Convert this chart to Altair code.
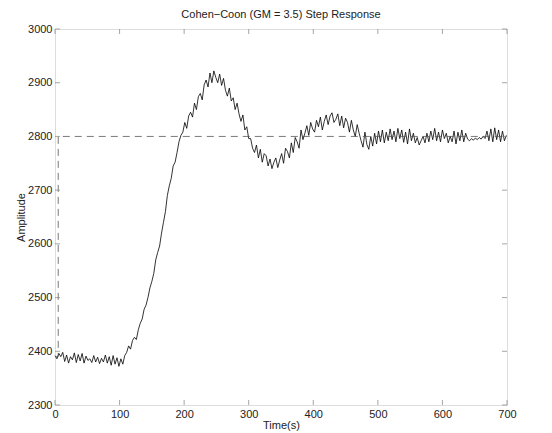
import altair as alt
import pandas as pd

# ---- data ----
time_s = list(range(0, 700, 3))

amp_base = [2392, 2386, 2396, 2390, 2398, 2381, 2393, 2378, 2390, 2384,
            2397, 2379, 2394, 2382, 2396, 2378, 2391, 2383, 2386, 2379,
            2392, 2380, 2389, 2377, 2387, 2380, 2393, 2378, 2390, 2374,
            2392, 2376, 2388, 2372, 2386, 2376]
amp_rise = [2392, 2398, 2410, 2404, 2420, 2426, 2422, 2440, 2452, 2460,
            2478, 2486, 2500, 2518, 2530, 2545, 2570, 2584, 2596, 2620,
            2640, 2660, 2690, 2708, 2722, 2745, 2752, 2770, 2790, 2802]
amp_peak = [2808, 2826, 2815, 2838, 2845, 2836, 2862, 2850, 2874, 2880,
            2868, 2896, 2905, 2892, 2918, 2900, 2922, 2910, 2900, 2916,
            2895, 2908, 2886, 2875, 2890, 2866, 2872, 2850, 2862, 2842,
            2828, 2840, 2812, 2818, 2796]
amp_dip = [2796, 2778, 2770, 2784, 2760, 2776, 2752, 2768, 2764, 2745,
           2758, 2740, 2752, 2760, 2742, 2756, 2768, 2750, 2778, 2772,
           2760, 2788, 2770, 2798, 2790, 2778, 2812, 2794, 2806, 2820]
amp_bump = [2802, 2826, 2814, 2808, 2830, 2818, 2836, 2812, 2828, 2840,
            2822, 2838, 2844, 2826, 2832, 2842, 2820, 2838, 2816, 2834,
            2826, 2808, 2830, 2812, 2800, 2822, 2806]
amp_settle = [2792, 2780, 2808, 2785, 2776, 2800, 2782, 2806, 2786, 2810,
              2790, 2812, 2788, 2808, 2792, 2814, 2794, 2810, 2790, 2815,
              2796, 2812, 2789, 2808, 2786, 2814, 2792, 2806, 2788, 2798,
              2784, 2792, 2800, 2788, 2806, 2790, 2810, 2794, 2815, 2792,
              2808, 2790, 2812, 2796, 2806, 2788, 2800, 2790, 2810, 2786,
              2808, 2792, 2812, 2790, 2806, 2795, 2792, 2796, 2793, 2797,
              2794, 2798, 2795, 2800, 2796, 2810, 2792, 2814, 2790, 2816,
              2794, 2812, 2790, 2810, 2792, 2802]

amplitude = amp_base + amp_rise + amp_peak + amp_dip + amp_bump + amp_settle

setpoint_t = [0, 5, 5, 700]
setpoint_y = [2390, 2390, 2800, 2800]

x_ticks = [0, 100, 200, 300, 400, 500, 600, 700]
y_ticks = [2300, 2400, 2500, 2600, 2700, 2800, 2900, 3000]

title_text = "Cohen\u2212Coon (GM = 3.5) Step Response"

# ---- tables ----
resp = pd.DataFrame({"t": time_s, "y": amplitude, "o": list(range(len(time_s)))})
sp = pd.DataFrame({"t": setpoint_t, "y": setpoint_y, "o": list(range(len(setpoint_t)))})
bt = pd.DataFrame({"t": x_ticks, "y": [y_ticks[0]] * len(x_ticks)})
tt = pd.DataFrame({"t": x_ticks, "y": [y_ticks[-1]] * len(x_ticks)})
lt = pd.DataFrame({"t": [x_ticks[0]] * len(y_ticks), "y": y_ticks})
rt = pd.DataFrame({"t": [x_ticks[-1]] * len(y_ticks), "y": y_ticks})

FONT = "Liberation Sans"
TXT = "#222222"
AX = "#808080"

xs = alt.Scale(domain=[0, 700], nice=False, zero=False)
ys = alt.Scale(domain=[2300, 3000], nice=False, zero=False)

x_axis = alt.Axis(values=x_ticks, format="d", title="Time(s)", grid=False,
                  domain=False, ticks=False, labelPadding=3, titlePadding=0,
                  labelFont=FONT, labelFontSize=11, labelColor=TXT,
                  titleFont=FONT, titleFontSize=11, titleColor=TXT,
                  titleFontWeight="normal", labelFlush=False)
y_axis = alt.Axis(values=y_ticks, format="d", title="Amplitude", grid=False,
                  domain=False, ticks=False, labelPadding=3, titlePadding=1,
                  labelFont=FONT, labelFontSize=11, labelColor=TXT,
                  titleFont=FONT, titleFontSize=11, titleColor=TXT,
                  titleFontWeight="normal", labelFlush=False)

X = alt.X("t:Q", scale=xs, axis=x_axis)
Y = alt.Y("y:Q", scale=ys, axis=y_axis)

line = alt.Chart(resp).mark_line(color="black", strokeWidth=0.8).encode(
    x=X, y=Y, order="o:Q",
)

setp = alt.Chart(sp).mark_line(color="#555555", strokeWidth=0.8,
                               strokeDash=[7, 5]).encode(
    x=X, y=Y, order="o:Q",
)

def ticks(df, orient, dx=0, dy=0):
    kw = dict(orient=orient, size=5, thickness=1, color=AX)
    if dx:
        kw["xOffset"] = dx
    if dy:
        kw["yOffset"] = dy
    return alt.Chart(df).mark_tick(**kw).encode(x=X, y=Y)

chart = alt.layer(
    line, setp,
    ticks(bt, "vertical", dy=-2.5),
    ticks(tt, "vertical", dy=2.5),
    ticks(lt, "horizontal", dx=2.5),
    ticks(rt, "horizontal", dx=-2.5),
).properties(
    width=452, height=376,
    padding={"left": 47, "top": 21, "right": 37, "bottom": 28},
    autosize=alt.AutoSizeParams(type="none"),
    title=alt.Title(title_text, font=FONT, fontSize=11, fontWeight="normal",
                    color=TXT, offset=3),
).configure_view(stroke=AX, strokeWidth=1).configure(background="white")

chart.save("out.html", embed_options={"renderer": "svg", "actions": False})
